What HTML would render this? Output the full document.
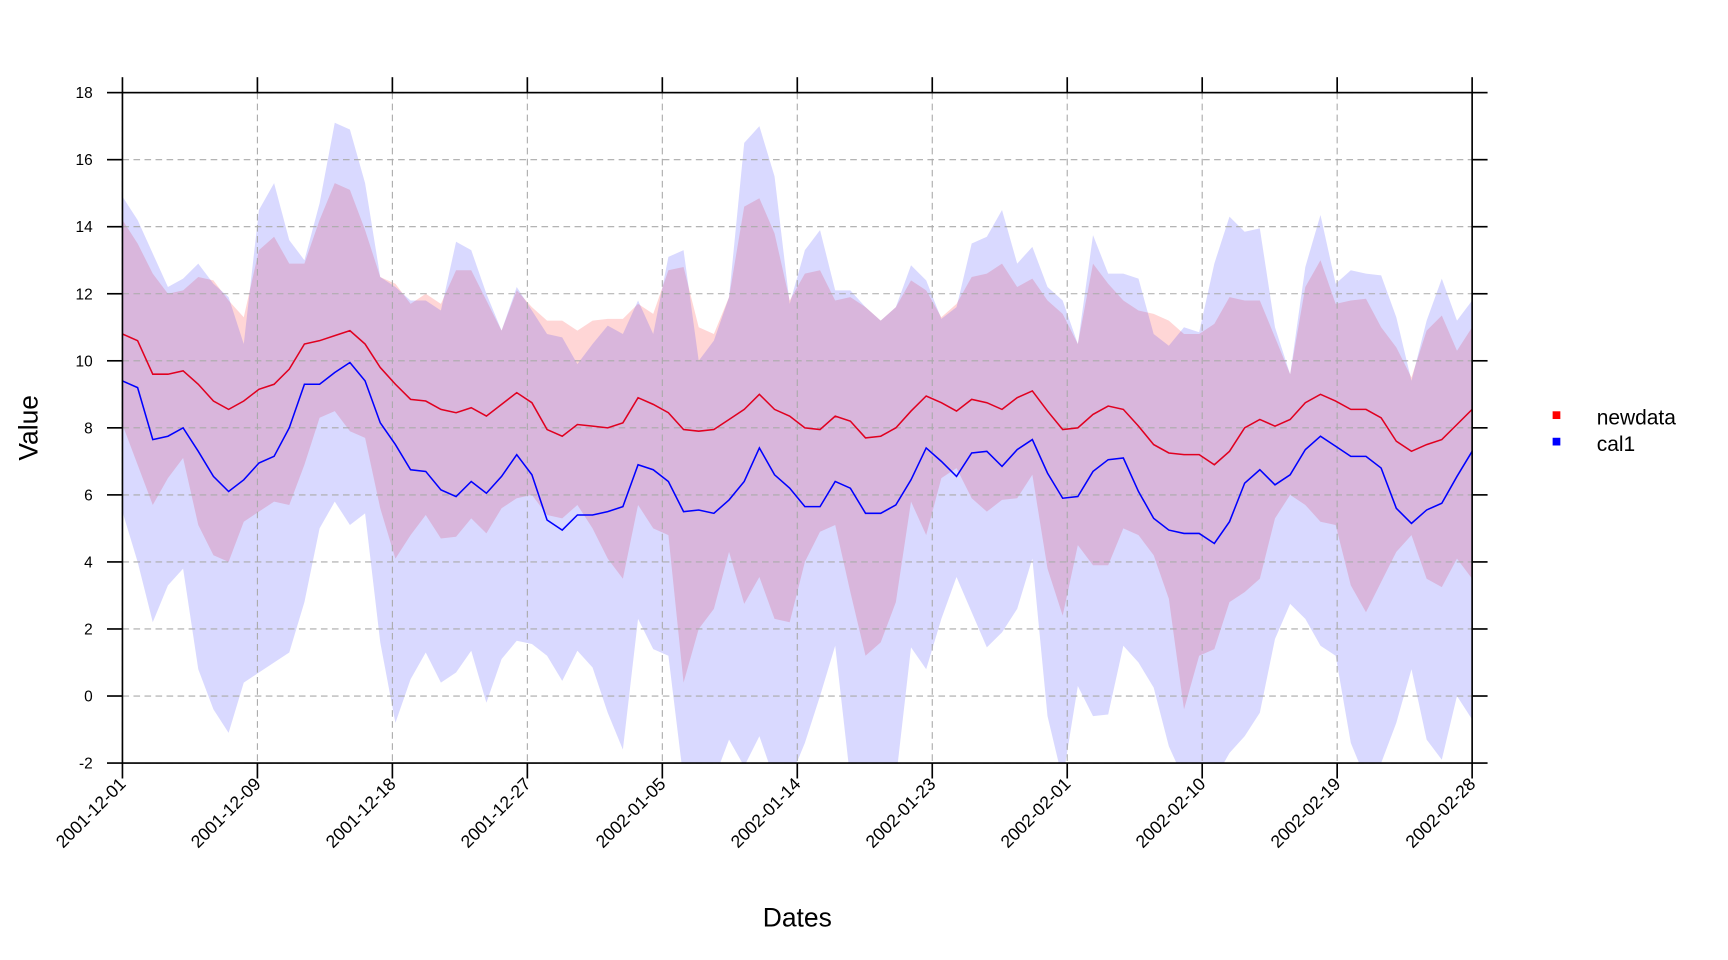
<!DOCTYPE html>
<html><head><meta charset="utf-8"><style>html,body{margin:0;padding:0;background:#fff}svg{display:block}</style></head>
<body>
<svg id="chart" width="1728" height="960" viewBox="0 0 1567 870.6" xmlns="http://www.w3.org/2000/svg" font-family="Liberation Sans, sans-serif">
<defs><clipPath id="clip"><rect x="111" y="84" width="1224" height="608"/></clipPath></defs>
<g id="bands" clip-path="url(#clip)"></g>
<g id="grid"></g>
<g id="lines" clip-path="url(#clip)"></g>
<g id="axes"></g>
<text x="723" y="840" font-size="24" text-anchor="middle">Dates</text>
<text transform="translate(34,388) rotate(-90)" font-size="24" text-anchor="middle">Value</text>
<g>
<rect x="1408" y="373" width="7" height="7" fill="#ff0000"/>
<text x="1448" y="385" font-size="19">newdata</text>
<rect x="1408" y="397" width="7" height="7" fill="#0000ff"/>
<text x="1448" y="409" font-size="19">cal1</text>
</g>
</svg>
<script>
const redMean=[10.8,10.6,9.6,9.6,9.7,9.3,8.8,8.55,8.8,9.15,9.3,9.75,10.5,10.6,10.75,10.9,10.5,9.8,9.3,8.85,8.8,8.55,8.45,8.6,8.35,8.7,9.05,8.75,7.95,7.75,8.1,8.05,8.0,8.15,8.9,8.7,8.45,7.95,7.9,7.95,8.25,8.55,9.0,8.55,8.35,8.0,7.95,8.35,8.2,7.7,7.75,8.0,8.5,8.95,8.75,8.5,8.85,8.75,8.55,8.9,9.1,8.5,7.95,8.0,8.4,8.65,8.55,8.05,7.5,7.25,7.2,7.2,6.9,7.3,8.0,8.25,8.05,8.25,8.75,9.0,8.8,8.55,8.55,8.3,7.6,7.3,7.5,7.65,8.1,8.55];
const blueMean=[9.4,9.2,7.65,7.75,8.0,7.3,6.55,6.1,6.45,6.95,7.15,8.0,9.3,9.3,9.65,9.95,9.4,8.15,7.5,6.75,6.7,6.15,5.95,6.4,6.05,6.55,7.2,6.6,5.25,4.95,5.4,5.4,5.5,5.65,6.9,6.75,6.4,5.5,5.55,5.45,5.85,6.4,7.4,6.6,6.2,5.65,5.65,6.4,6.2,5.45,5.45,5.7,6.45,7.4,7.0,6.55,7.25,7.3,6.85,7.35,7.65,6.65,5.9,5.95,6.7,7.05,7.1,6.1,5.3,4.95,4.85,4.85,4.55,5.2,6.35,6.75,6.3,6.6,7.35,7.75,7.45,7.15,7.15,6.8,5.6,5.15,5.55,5.75,6.55,7.3];
const redUpper=[14.2,13.5,12.6,12.0,12.1,12.5,12.4,11.8,11.3,13.3,13.7,12.9,12.9,14.2,15.3,15.1,13.9,12.5,12.3,11.7,12.0,11.7,12.7,12.7,11.8,10.9,12.1,11.6,11.2,11.2,10.9,11.2,11.25,11.25,11.7,11.4,12.7,12.8,11.0,10.8,11.9,14.6,14.85,13.8,11.8,12.6,12.7,11.8,11.9,11.6,11.2,11.6,12.4,12.1,11.3,11.7,12.5,12.6,12.9,12.2,12.45,11.8,11.4,10.5,12.9,12.3,11.8,11.5,11.4,11.2,10.8,10.8,11.1,11.9,11.8,11.8,10.7,9.6,12.2,13.0,11.7,11.8,11.85,11.0,10.4,9.5,10.9,11.35,10.3,11.0];
const redLower=[8.1,6.9,5.7,6.5,7.1,5.1,4.2,4.0,5.2,5.5,5.8,5.7,6.9,8.3,8.5,7.9,7.7,5.6,4.1,4.8,5.4,4.7,4.75,5.3,4.85,5.6,5.9,6.0,5.4,5.3,5.7,5.0,4.1,3.5,5.7,5.0,4.8,0.4,2.0,2.6,4.3,2.75,3.55,2.3,2.2,4.0,4.9,5.1,3.1,1.2,1.6,2.8,5.8,4.8,6.5,6.8,5.9,5.5,5.85,5.9,6.6,3.8,2.4,4.5,3.9,3.9,5.0,4.8,4.2,2.9,-0.4,1.2,1.4,2.8,3.1,3.5,5.3,6.0,5.7,5.2,5.1,3.3,2.5,3.4,4.3,4.8,3.5,3.25,4.1,3.5];
const blueUpper=[14.9,14.2,13.2,12.2,12.45,12.9,12.3,11.9,10.5,14.5,15.3,13.6,13.0,14.7,17.1,16.9,15.3,12.5,12.2,11.8,11.8,11.5,13.55,13.3,12.0,10.9,12.2,11.5,10.8,10.7,9.9,10.5,11.05,10.8,11.8,10.8,13.1,13.3,10.0,10.6,11.9,16.5,17.0,15.5,11.7,13.3,13.9,12.1,12.1,11.6,11.2,11.6,12.85,12.4,11.25,11.6,13.5,13.7,14.5,12.9,13.4,12.2,11.8,10.5,13.75,12.6,12.6,12.45,10.8,10.45,11.0,10.85,12.9,14.3,13.85,13.95,11.0,9.6,12.8,14.35,12.3,12.7,12.6,12.55,11.3,9.4,11.2,12.45,11.2,11.8];
const blueLower=[5.5,4.0,2.2,3.3,3.8,0.8,-0.4,-1.1,0.4,0.7,1.0,1.3,2.8,5.0,5.8,5.1,5.45,1.6,-0.8,0.5,1.3,0.4,0.7,1.35,-0.2,1.1,1.65,1.55,1.2,0.45,1.35,0.85,-0.5,-1.6,2.3,1.4,1.2,-2.5,-2.5,-2.5,-1.3,-2.1,-1.2,-2.5,-2.5,-1.4,0.0,1.5,-2.5,-2.5,-2.5,-2.5,1.45,0.8,2.3,3.55,2.5,1.45,1.9,2.6,4.1,-0.6,-2.5,0.3,-0.6,-0.55,1.5,1.0,0.25,-1.5,-2.5,-2.5,-2.5,-1.7,-1.2,-0.5,1.7,2.75,2.3,1.5,1.2,-1.4,-2.5,-2.0,-0.8,0.8,-1.3,-1.9,0.0,-0.7];
const yTicks=[-2,0,2,4,6,8,10,12,14,16,18];
const xTickDays=[0,8.9,17.8,26.7,35.6,44.5,53.4,62.3,71.2,80.1,89];
const xTickLabels=["2001-12-01","2001-12-09","2001-12-18","2001-12-27","2002-01-05","2002-01-14","2002-01-23","2002-02-01","2002-02-10","2002-02-19","2002-02-28"];

const NS="http://www.w3.org/2000/svg";
const X0=111,X1=1335,Y0=692,Y1=84,nDays=89;
function xs(d){return X0+(X1-X0)*d/nDays;}
function ys(v){return Y0-(v+2)/20*(Y0-Y1);}
function mk(tag,attrs,parent){const e=document.createElementNS(NS,tag);for(const k in attrs)e.setAttribute(k,attrs[k]);parent.appendChild(e);return e;}
const bands=document.getElementById('bands'),grid=document.getElementById('grid'),lines=document.getElementById('lines'),axes=document.getElementById('axes');
function band(up,lo,fill,name){
  let pts=up.map((v,i)=>xs(i)+','+ys(v));
  for(let i=lo.length-1;i>=0;i--)pts.push(xs(i)+','+ys(lo[i]));
  const p=mk('polygon',{points:pts.join(' '),fill:fill},bands);
  
  
}
band(redUpper,redLower,'rgba(255,0,0,0.16)','newdata-band');
band(blueUpper,blueLower,'rgba(0,0,255,0.15)','cal1-band');
yTicks.forEach(v=>{
  const l=mk('line',{x1:X0,x2:X1,y1:ys(v),y2:ys(v),stroke:'#aaa','stroke-dasharray':'6,4','stroke-width':1},grid);
  
  
  [[97,111],[1335,1349]].forEach(s=>{mk('line',{x1:s[0],x2:s[1],y1:ys(v),y2:ys(v),stroke:'#000','stroke-width':1.5},axes);});
  const t=mk('text',{x:84,y:ys(v)+5,'font-size':14,'text-anchor':'end'},axes);
  t.textContent=v;
  
  
});
xTickDays.forEach((d,i)=>{
  const x=xs(d);
  const l=mk('line',{x1:x,x2:x,y1:Y1,y2:Y0,stroke:'#aaa','stroke-dasharray':'6,4','stroke-width':1},grid);
  
  
  mk('line',{x1:x,x2:x,y1:70,y2:84,stroke:'#000','stroke-width':1.5},axes);
  mk('line',{x1:x,x2:x,y1:692,y2:706,stroke:'#000','stroke-width':1.5},axes);
  const t=mk('text',{transform:'translate('+(x+4)+',712) rotate(-45)','font-size':16,'text-anchor':'end'},axes);
  t.textContent=xTickLabels[i];
  
  
});
mk('rect',{x:X0,y:Y1,width:X1-X0,height:Y0-Y1,fill:'none',stroke:'#000','stroke-width':1.5},axes);
function line(arr,color,name){
  const p=mk('polyline',{points:arr.map((v,i)=>xs(i)+','+ys(v)).join(' '),fill:'none',stroke:color,'stroke-width':1.4},lines);
  
  
}
line(redMean,'#e00020','newdata-line');
line(blueMean,'#0000ff','cal1-line');
</script>
</body></html>
